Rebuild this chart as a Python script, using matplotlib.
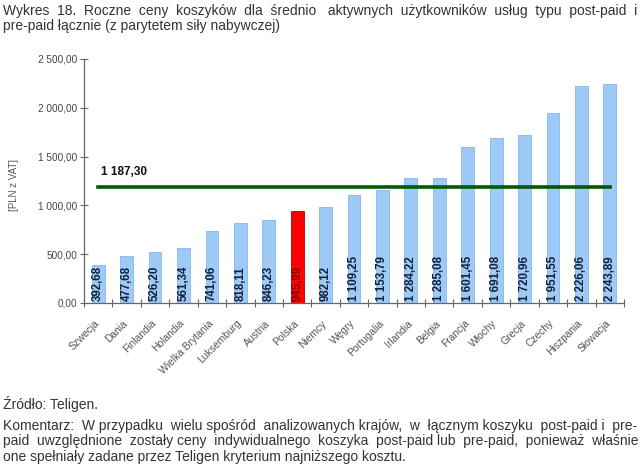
import matplotlib
matplotlib.use("Agg")
import matplotlib.pyplot as plt
import matplotlib.transforms as mtransforms
import numpy as np

plt.rcParams["font.family"] = ["Liberation Sans", "DejaVu Sans"]

countries = ["Szwecja", "Dania", "Finlandia", "Holandia", "Wielka Brytania",
             "Luksemburg", "Austria", "Polska", "Niemcy", "Węgry", "Portugalia",
             "Irlandia", "Belgia", "Francja", "Włochy", "Grecja", "Czechy",
             "Hiszpania", "Słowacja"]
values = [392.68, 477.68, 526.20, 561.34, 741.06, 818.11, 846.23, 945.99,
          982.12, 1109.25, 1153.79, 1284.22, 1285.08, 1601.45, 1691.08,
          1720.96, 1951.55, 2226.06, 2243.89]
average = 1187.30
highlight = "Polska"

title_lines = [
    "Wykres 18. Roczne ceny koszyków dla średnio aktywnych użytkowników usług typu post-paid i",
    "pre-paid łącznie (z parytetem siły nabywczej)",
]
source = "Źródło: Teligen."
comment_lines = [
    "Komentarz: W przypadku wielu spośród analizowanych krajów, w łącznym koszyku post-paid i pre-",
    "paid uwzględnione zostały ceny indywidualnego koszyka post-paid lub pre-paid, ponieważ właśnie",
    "one spełniały zadane przez Teligen kryterium najniższego kosztu.",
]

TXT_SIZE = 10.0
TXT_COLOR = "#333333"


def pl_fmt(v):
    s = f"{v:,.2f}"
    return s.replace(",", " ").replace(".", ",")


W, H = 640, 471
fig = plt.figure(figsize=(W / 100, H / 100), dpi=100)
renderer = fig.canvas.get_renderer()


def text_width(s):
    t = fig.text(0, 0, s, fontsize=TXT_SIZE)
    w = t.get_window_extent(renderer).width
    t.remove()
    return w


def text_line(line, base_px, x0=3, x1=637, justify=False):
    # justify by padding the gaps with extra spaces (one text per line)
    if justify:
        words = line.split(" ")
        sp = text_width("a a") - text_width("aa")
        extra = x1 - x0 - sum(text_width(w) for w in words)
        g = extra / (len(words) - 1) / sp
        out = words[0]
        for i, w in enumerate(words[1:]):
            k = max(1, round(g * (i + 1)) - round(g * i))
            out += " " * k + w
        line = out
    fig.text(x0 / W, 1 - base_px / H, line, fontsize=TXT_SIZE, color=TXT_COLOR,
             ha="left", va="baseline")


ax = fig.add_axes([84 / W, 1 - 303 / H, (624 - 84) / W, (303 - 59) / H])

x = np.arange(len(countries))
colors = ["#ff0000" if c == highlight else "#9dcaf7" for c in countries]
edges = ["#b00000" if c == highlight else "#86b6e6" for c in countries]
ax.bar(x, values, width=0.45, color=colors, edgecolor=edges, linewidth=0.6, zorder=2)

for xi, v, c in zip(x, values, countries):
    ax.text(xi, 25, pl_fmt(v), rotation=90, ha="center", va="bottom",
            fontsize=8.3, fontweight="bold",
            color="#8b0000" if c == highlight else "#14213d", zorder=3)

ax.plot([x[0], x[-1]], [average, average], color="#005a00", lw=2.6, zorder=4)
ax.text(x[0] + 0.1, average + 90, pl_fmt(average), fontsize=8.5,
        fontweight="bold", color="#111111", ha="left", va="bottom")

ax.set_xlim(-0.5, len(countries) - 0.5)
ax.set_ylim(0, 2500)
ax.set_yticks(np.arange(0, 2501, 500))
ax.set_yticklabels([pl_fmt(v) for v in np.arange(0, 2501, 500)],
                   fontsize=7.2, color="#444444")
ax.set_xticks(np.arange(-0.5, len(countries), 1.0))
ax.set_xticklabels([])
ax.set_xticks(x, minor=True)
ax.set_xticklabels(countries, minor=True, rotation=45, ha="right",
                   rotation_mode="anchor", fontsize=7.4, color="#555555")
ax.tick_params(axis="x", which="minor", length=0, pad=11)
ax.tick_params(axis="both", which="major", direction="inout", length=6,
               color="#666666", width=0.8)
ax.tick_params(axis="y", pad=2)
shift = mtransforms.ScaledTranslation(-4 / 100, 0, fig.dpi_scale_trans)
for lbl in ax.get_xticklabels(minor=True):
    lbl.set_transform(lbl.get_transform() + shift)

for side in ["top", "right"]:
    ax.spines[side].set_visible(False)
for side in ["left", "bottom"]:
    ax.spines[side].set_color("#666666")
    ax.spines[side].set_linewidth(0.9)

fig.text(14 / W, 1 - 185 / H, "[PLN z VAT]", rotation=90, ha="center",
         va="center", fontsize=7, color="#555555")

text_line(title_lines[0], 15, justify=True)
text_line(title_lines[1], 30)

text_line(source, 409)
text_line(comment_lines[0], 430, justify=True)
text_line(comment_lines[1], 445.5, justify=True)
text_line(comment_lines[2], 461)

fig.savefig("out.png", dpi=100)
